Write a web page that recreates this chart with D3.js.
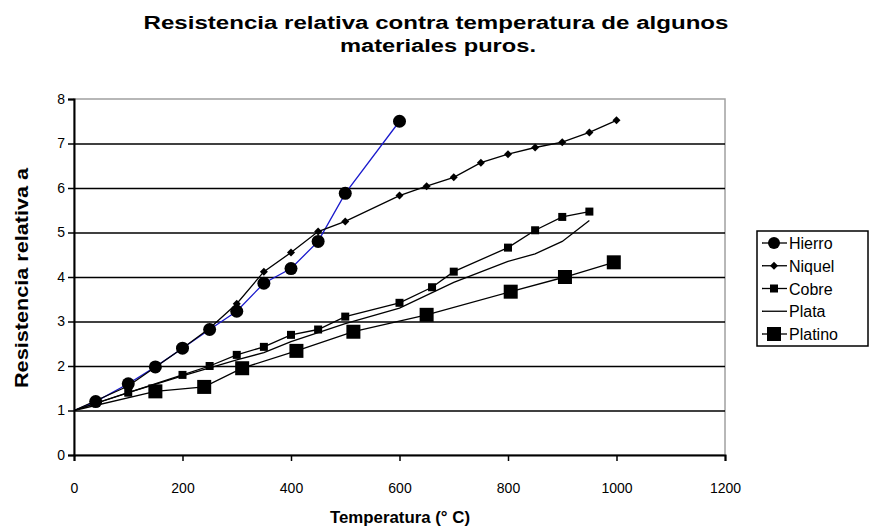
<!DOCTYPE html>
<html>
<head>
<meta charset="utf-8">
<script src="https://cdn.jsdelivr.net/npm/d3@7"></script>
<style>
  body { margin: 0; background: #fff; }
  text { font-family: "Liberation Sans", Arial, sans-serif; }
</style>
</head>
<body>
<svg width="870" height="529"></svg>
<script>
// values
var hierro = [[0,1],[40,1.2],[100,1.6],[150,1.98],[200,2.4],[250,2.82],[300,3.23],[350,3.86],[400,4.19],[450,4.8],[500,5.88],[600,7.5]];
var niquel = [[0,1],[100,1.55],[200,2.4],[250,2.85],[300,3.4],[350,4.12],[400,4.55],[450,5.02],[500,5.25],[600,5.83],[650,6.04],[700,6.24],[750,6.57],[800,6.76],[850,6.91],[900,7.03],[950,7.25],[1000,7.52]];
var cobre = [[0,1],[100,1.4],[200,1.8],[250,2.0],[300,2.25],[350,2.43],[400,2.7],[450,2.82],[500,3.11],[600,3.42],[660,3.77],[700,4.12],[800,4.66],[850,5.05],[900,5.35],[950,5.47]];
var plata = [[0,1],[100,1.4],[200,1.78],[300,2.14],[350,2.3],[400,2.55],[500,2.95],[600,3.3],[700,3.88],[800,4.35],[850,4.52],[900,4.8],[950,5.27]];
var platino = [[0,1],[150,1.43],[240,1.53],[310,1.95],[410,2.34],[515,2.77],[650,3.15],[805,3.67],[905,4.0],[995,4.33]];

var xTicks = [0, 200, 400, 600, 800, 1000, 1200];
var yTicks = [0, 1, 2, 3, 4, 5, 6, 7, 8];
var seriesNames = ["Hierro", "Niquel", "Cobre", "Plata", "Platino"];

var svg = d3.select("svg");
var pLeft = 74, pRight = 725, pTop = 99, pBottom = 455;

var x = d3.scaleLinear().domain([0, 1200]).range([pLeft, pRight]);
var y = d3.scaleLinear().domain([0, 8]).range([pBottom, pTop]);

// plot frame (grey top / right)
svg.append("rect")
  .attr("x", pLeft).attr("y", pTop)
  .attr("width", pRight - pLeft).attr("height", pBottom - pTop)
  .attr("fill", "none").attr("stroke", "#a0a0a0").attr("stroke-width", 1.5);

// horizontal gridlines
svg.append("g").selectAll("line")
  .data(yTicks.filter(d => d > 0 && d < 8))
  .enter().append("line")
    .attr("x1", pLeft).attr("x2", pRight)
    .attr("y1", d => y(d) + 0.5).attr("y2", d => y(d) + 0.5)
    .attr("stroke", "#000").attr("stroke-width", 1.5);

var xAxis = svg.append("g")
  .attr("transform", "translate(0," + pBottom + ")")
  .call(d3.axisBottom(x).tickValues(xTicks).tickSize(6).tickPadding(22).tickFormat(d3.format("d")));
var yAxis = svg.append("g")
  .attr("transform", "translate(" + pLeft + ",0)")
  .call(d3.axisLeft(y).tickValues(yTicks).tickSize(6).tickPadding(3));

[xAxis, yAxis].forEach(function(a) {
  a.select(".domain").attr("stroke", "#000").attr("stroke-width", 2);
  a.selectAll(".tick line").attr("stroke", "#000").attr("stroke-width", 1.5);
  a.selectAll(".tick text").attr("font-size", 14).attr("fill", "#000")
    .style("font-family", "'Liberation Sans', Arial, sans-serif");
});

var line = d3.line().x(d => x(d[0])).y(d => y(d[1]));

function drawLine(data, color) {
  svg.append("path").datum(data)
    .attr("d", line)
    .attr("fill", "none")
    .attr("stroke", color)
    .attr("stroke-width", 1.3);
}

drawLine(hierro, "#1a1acc");
drawLine(plata, "#000");
drawLine(platino, "#000");
drawLine(cobre, "#000");
drawLine(niquel, "#000");

// markers
function circles(data, r) {
  svg.append("g").selectAll("circle").data(data).enter().append("circle")
    .attr("cx", d => x(d[0])).attr("cy", d => y(d[1])).attr("r", r).attr("fill", "#000");
}
function squares(data, s) {
  svg.append("g").selectAll("rect").data(data).enter().append("rect")
    .attr("x", d => x(d[0]) - s / 2).attr("y", d => y(d[1]) - s / 2)
    .attr("width", s).attr("height", s).attr("fill", "#000");
}
function diamonds(data, s) {
  svg.append("g").selectAll("path").data(data).enter().append("path")
    .attr("transform", d => "translate(" + x(d[0]) + "," + y(d[1]) + ")")
    .attr("d", "M0,-" + s + "L" + s + ",0L0," + s + "L-" + s + ",0Z")
    .attr("fill", "#000");
}

circles(hierro.slice(1), 6.5);
squares(platino.slice(1), 14);
squares(cobre.slice(1), 8);
diamonds(niquel.slice(1), 4);

// title (condensed bold look)
var title = svg.append("text")
  .attr("text-anchor", "middle")
  .attr("font-weight", "bold").attr("font-size", 18);
title.append("tspan").attr("x", 436).attr("y", 29)
  .attr("textLength", 585).attr("lengthAdjust", "spacingAndGlyphs")
  .text("Resistencia relativa contra temperatura de algunos");
title.append("tspan").attr("x", 438).attr("y", 52)
  .attr("textLength", 196).attr("lengthAdjust", "spacingAndGlyphs")
  .text("materiales puros.");

// axis titles
svg.append("text")
  .attr("x", 400).attr("y", 523).attr("text-anchor", "middle")
  .attr("font-weight", "bold").attr("font-size", 17)
  .attr("textLength", 140).attr("lengthAdjust", "spacingAndGlyphs")
  .text("Temperatura (° C)");
svg.append("text")
  .attr("transform", "translate(28," + 278 + ") rotate(-90)")
  .attr("text-anchor", "middle")
  .attr("font-weight", "bold").attr("font-size", 18)
  .attr("textLength", 220).attr("lengthAdjust", "spacingAndGlyphs")
  .text("Resistencia relativa a");

// legend
var lg = svg.append("g");
lg.append("rect")
  .attr("x", 757).attr("y", 231).attr("width", 111).attr("height", 115)
  .attr("fill", "#fff").attr("stroke", "#000").attr("stroke-width", 1.5);

var legendY = d3.scalePoint().domain(seriesNames).range([243, 334]);
var items = lg.selectAll("g.item").data(seriesNames).enter().append("g")
  .attr("class", "item")
  .attr("transform", d => "translate(0," + legendY(d) + ")");

items.append("line")
  .attr("x1", 762).attr("x2", 787).attr("y1", 0).attr("y2", 0)
  .attr("stroke", "#000").attr("stroke-width", 1.3);
items.append("text")
  .attr("x", 789).attr("y", 6)
  .attr("font-size", 16).attr("fill", "#000")
  .text(d => d);

items.filter(d => d === "Hierro").append("circle").attr("cx", 774).attr("cy", 0).attr("r", 6).attr("fill", "#000");
items.filter(d => d === "Niquel").append("path").attr("transform", "translate(774,0)").attr("d", "M0,-4L4,0L0,4L-4,0Z").attr("fill", "#000");
items.filter(d => d === "Cobre").append("rect").attr("x", 770).attr("y", -4).attr("width", 8).attr("height", 8).attr("fill", "#000");
items.filter(d => d === "Platino").append("rect").attr("x", 767).attr("y", -7).attr("width", 14).attr("height", 14).attr("fill", "#000");
</script>
</body>
</html>
